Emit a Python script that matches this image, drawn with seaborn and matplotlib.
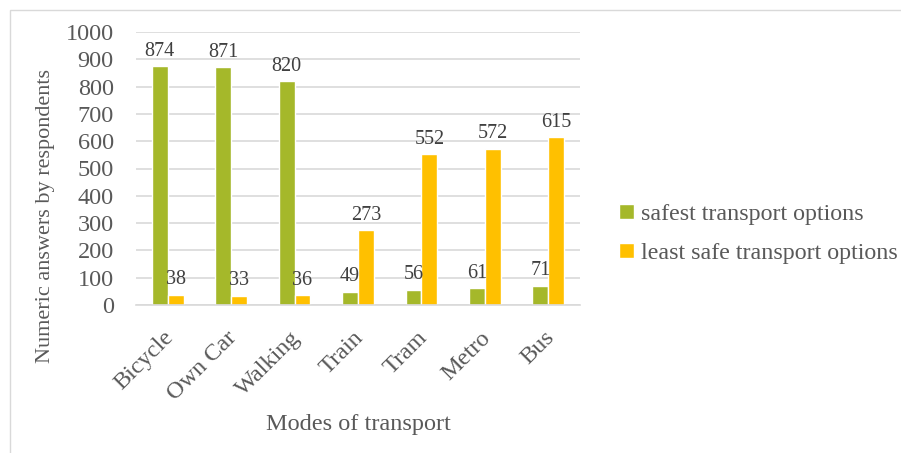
import pandas as pd
import seaborn as sns
import matplotlib.pyplot as plt
from matplotlib.patches import Rectangle
from matplotlib.transforms import ScaledTranslation

## Data
modes = ["Bicycle", "Own Car", "Walking", "Train", "Tram", "Metro", "Bus"]
safest = [874, 871, 820, 49, 56, 61, 71]
least_safe = [38, 33, 36, 273, 552, 572, 615]
series_names = ["safest transport options", "least safe transport options"]

df = pd.DataFrame({
    "mode": modes * 2,
    "value": safest + least_safe,
    "series": [series_names[0]] * len(modes) + [series_names[1]] * len(modes),
})

sns.set_style("white")
plt.rcParams["font.family"] = ["Liberation Serif", "DejaVu Serif"]
txt = "#595959"

fig = plt.figure(figsize=(9.01, 4.53), dpi=100)
ax = fig.add_axes([136 / 901, 1 - 305 / 453, (580 - 136) / 901, (305 - 32) / 453])

sns.barplot(data=df, x="mode", y="value", hue="series", order=modes,
            hue_order=series_names, palette=["#A5B82A", "#FFC000"],
            width=0.5, saturation=1, ax=ax)

for c in ax.containers:
    ax.bar_label(c, padding=4, fontsize=14.5, color="#404040")

ax.set_ylim(0, 1000)
ax.set_yticks(range(0, 1001, 100))
ax.yaxis.grid(True, color="#D9D9D9", linewidth=1.2)
ax.set_axisbelow(True)
for s in ["top", "right", "left"]:
    ax.spines[s].set_visible(False)
ax.spines["bottom"].set_color("#D9D9D9")
ax.spines["bottom"].set_linewidth(1.2)
ax.tick_params(axis="both", length=0, labelsize=17.5, labelcolor=txt)
ax.tick_params(axis="y", pad=16)
ax.tick_params(axis="x", pad=16)
shift = ScaledTranslation(-5 / 100, 0, fig.dpi_scale_trans)
for lab in ax.get_xticklabels():
    lab.set_rotation(45)
    lab.set_ha("right")
    lab.set_rotation_mode("anchor")
    lab.set_transform(lab.get_transform() + shift)

ax.set_xlabel("Modes of transport", fontsize=17.5, color=txt, labelpad=7)
ax.set_ylabel("Numeric answers by respondents", fontsize=16, color=txt)
ax.yaxis.set_label_coords(-0.182, 0.326)

ax.legend(loc="center left", bbox_to_anchor=(1.04, 0.26), frameon=False,
          fontsize=17.3, labelcolor=txt, handlelength=0.6, handleheight=0.6,
          handletextpad=0.3, labelspacing=0.75)

fig.patches.append(Rectangle((10 / 901, -0.1), 1.1, 1 - 10 / 453 + 0.1,
                             transform=fig.transFigure, fill=False,
                             edgecolor="#D9D9D9", linewidth=1, clip_on=False))

fig.savefig("out.png", dpi=100)
